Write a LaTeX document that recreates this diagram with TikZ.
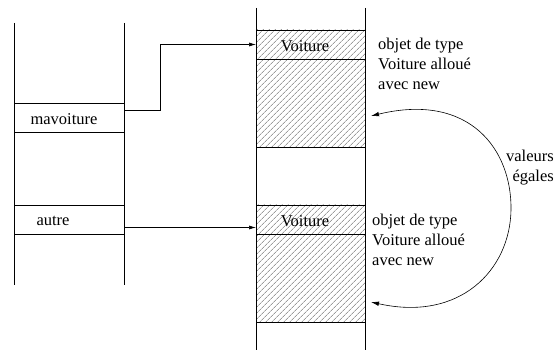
\documentclass[tikz,border=0pt]{standalone}
\usepackage{fontspec}
\setmainfont{Liberation Serif}
\usetikzlibrary{patterns.meta,arrows.meta}
\begin{document}
\begin{tikzpicture}[x=1pt,y=-1pt,
  every node/.style={font=\fontsize{16.5}{20}\selectfont, inner sep=0pt},
  stackline/.style={line width=0.8pt},
  cellbox/.style={draw, line width=0.8pt},
  hatched/.style={pattern={Lines[distance=4pt,angle=45,line width=0.5pt]}, pattern color=black!60},
  ptr/.style={line width=0.6pt, -{Latex[length=7pt,width=4pt]}},
  lbl/.style={align=left, anchor=north west}
]
\useasboundingbox (0,0) rectangle (555,350);
% left stack
\coordinate (LT1) at (14,23); \coordinate (LB1) at (14,285);
\coordinate (LT2) at (124,23); \coordinate (LB2) at (124,285);
\draw[stackline] (LT1) -- (LB1);
\draw[stackline] (LT2) -- (LB2);
\node[cellbox, minimum width=110pt, minimum height=29pt, anchor=north west] (mv) at (14,103) {};
\node at (64,119) {mavoiture};
\node[cellbox, minimum width=110pt, minimum height=29pt, anchor=north west] (au) at (14,205) {};
\node at (53,221) {autre};
% right stack
\coordinate (RT1) at (256,8); \coordinate (RB1) at (256,350);
\coordinate (RT2) at (365,8); \coordinate (RB2) at (365,350);
\fill[hatched] (256,30) rectangle (365,147);
\fill[hatched] (256,205) rectangle (365,322);
\draw[stackline] (RT1) -- (RB1);
\draw[stackline] (RT2) -- (RB2);
\draw[line width=0.8pt] (256,30) -- (365,30) (256,59) -- (365,59) (256,147) -- (365,147);
\draw[line width=0.8pt] (256,205) -- (365,205) (256,234) -- (365,234) (256,322) -- (365,322);
\node (v1) at (305,46) {Voiture};
\node (v2) at (305,221) {Voiture};
\coordinate (o1) at (256,44.5);
\coordinate (o2) at (256,227.5);
\coordinate (s1) at (124,110);
\coordinate (s2) at (124,227.5);
% pointers
\draw[ptr] (s1) -- (160,110) |- (o1);
\draw[ptr] (s2) -- (o2);
% labels
\node[lbl] (t1) at (378,38) {objet de type\\Voiture allou\'e\\avec new};
\node[lbl] (t2) at (372,214) {objet de type\\Voiture allou\'e\\avec new};
\node[align=right, anchor=north east] (eq) at (554,150) {valeurs\\\'egales};
% curved double arrow
\coordinate (c1) at (371,116);
\coordinate (c2) at (371,302);
\draw[line width=0.6pt, {Latex[length=8pt,width=4.5pt]}-{Latex[length=8pt,width=4.5pt]}]
  (c1) .. controls (470,92) and (512,150) .. (511,210)
       .. controls (510,270) and (460,322) .. (c2);
\end{tikzpicture}
\end{document}
